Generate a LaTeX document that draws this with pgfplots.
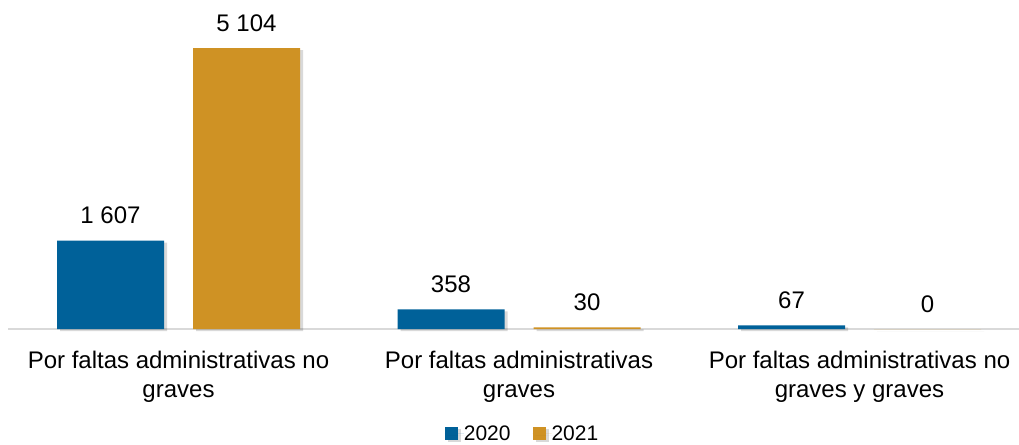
\documentclass[border=0pt]{standalone}
\usepackage{fontspec}
\setmainfont{Liberation Sans}
\usepackage{pgfplots}
\pgfplotsset{compat=1.18}
\usetikzlibrary{shadows}
\definecolor{cA}{RGB}{0,97,153}
\definecolor{cB}{RGB}{207,146,36}
\definecolor{baseln}{RGB}{217,217,217}
\begin{document}
\begin{tikzpicture}
\begin{axis}[
  at={(0pt,0pt)}, anchor=south west,
  scale only axis, width=1021.5pt, height=329pt,
  xmin=-0.5, xmax=2.5, ymin=0, ymax=5976,
  clip=false,
  ybar=29pt, bar width=107pt,
  hide y axis,
  axis x line*=bottom,
  x axis line style={draw=baseln, line width=2pt, -},
  xtick={0,1,2},
  major tick length=0pt,
  xticklabels={{Por faltas administrativas no\\graves},{Por faltas administrativas\\graves},{Por faltas administrativas no\\graves y graves}},
  x tick label style={font=\fontsize{24}{29}\selectfont, align=center, anchor=north, inner sep=0pt, yshift=-22pt},
  /pgf/number format/assume math mode=true,
  /pgf/number format/1000 sep={\ },
  nodes near coords,
  nodes near coords style={font=\fontsize{24}{29}\selectfont, anchor=base, inner sep=0pt, yshift=17pt, text=black},
  legend columns=2,
  legend style={at={(axis description cs:0.5025,-0.319)}, anchor=center, draw=none, fill=none,
    font=\fontsize{21}{25}\selectfont, inner sep=0pt, nodes={inner sep=0pt},
    /tikz/every even column/.append style={column sep=22pt}},
  legend image code/.code={\fill[#1] (0pt,-6.5pt) rectangle (13pt,6.5pt); \path (0pt,0pt) -- (19pt,0pt);},
]
\addplot[fill=cA, draw=none, drop shadow={shadow xshift=3pt, shadow yshift=-2pt, fill=black, opacity=0.15}] coordinates {(0,1607) (1,358) (2,67)};
\addplot[fill=cB, draw=none, drop shadow={shadow xshift=3pt, shadow yshift=-2pt, fill=black, opacity=0.15}] coordinates {(0,5104) (1,30) (2,0)};
\legend{2020,2021}
\end{axis}
\pgfresetboundingbox
\useasboundingbox (-8.25pt,-115pt) rectangle (1010.75pt,329pt);
\end{tikzpicture}
\end{document}
